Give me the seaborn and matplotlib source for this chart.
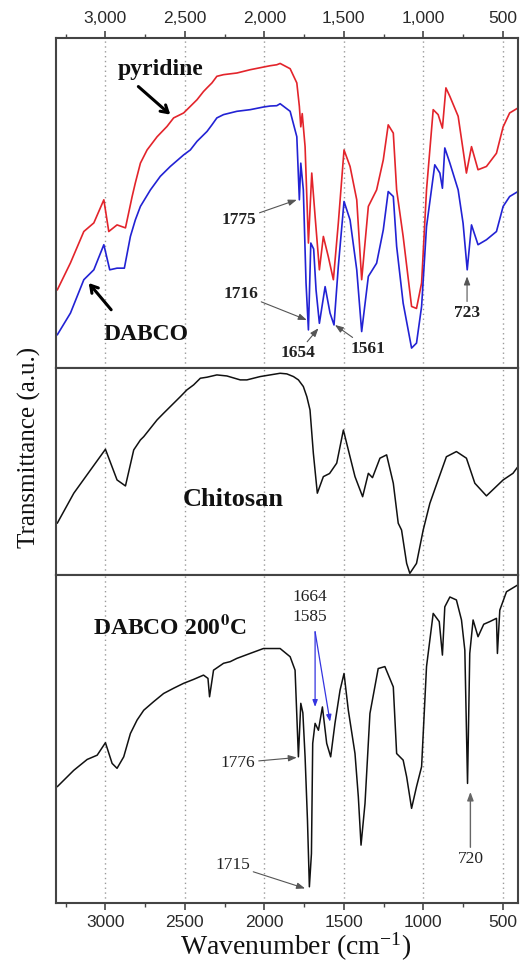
import numpy as np
import pandas as pd
import matplotlib
matplotlib.use("Agg")
import matplotlib.pyplot as plt
import seaborn as sns
from matplotlib.ticker import MultipleLocator, FuncFormatter

# --- data (wavenumber in cm-1, transmittance in % of panel height) ---
pyridineWn = [3303, 3220, 3136, 3073, 3010, 2979, 2927, 2874, 2832, 2812, 2780, 2738, 2675,
              2613, 2571, 2508, 2466, 2424, 2383, 2361, 2330, 2299, 2257, 2173, 2089, 2006,
              1964, 1922, 1901, 1838, 1796, 1780, 1771, 1762, 1744, 1723, 1702, 1681, 1654,
              1629, 1598, 1566, 1535, 1499, 1461, 1419, 1388, 1346, 1294, 1252, 1221, 1189,
              1168, 1127, 1074, 1043, 1011, 980, 938, 907, 880, 858, 833, 781, 750, 729,
              697, 656, 603, 540, 498, 457, 405]
pyridineT = [23.6, 31.8, 41.3, 43.9, 50.9, 41.3, 43.3, 42.4, 51.9, 56, 62, 66, 70,
             73.1, 75.7, 77.2, 79.2, 81.2, 83.7, 84.8, 86.3, 88.3, 88.8, 89.3, 90.3, 91.1,
             91.5, 91.8, 92.2, 90.6, 86.3, 79.2, 73, 77, 67, 37.8, 59, 45.9, 29.7,
             39.8, 33.7, 26.7, 43.8, 66, 61, 50.9, 26.7, 48.9, 53.9, 63, 73.6, 71.1,
             53.9, 39.8, 18.6, 18, 25.7, 53.9, 78.2, 76.7, 72.6, 84.8, 82.2, 76.2, 66, 59,
             67, 60, 61, 65, 73, 77.2, 78.7]

dabcoWn = [3303, 3220, 3136, 3073, 3010, 2973, 2927, 2881, 2843, 2812, 2780, 2717, 2655,
           2592, 2508, 2466, 2424, 2361, 2330, 2299, 2257, 2173, 2089, 2006, 1964, 1922,
           1901, 1838, 1796, 1780, 1771, 1755, 1738, 1723, 1708, 1690, 1675, 1654, 1618,
           1587, 1562, 1535, 1499, 1461, 1419, 1388, 1346, 1294, 1252, 1221, 1189, 1168,
           1127, 1074, 1043, 1011, 980, 928, 896, 880, 865, 833, 781, 750, 724, 697,
           656, 603, 540, 498, 457, 405]
dabcoT = [10, 16.6, 26.7, 29.7, 37.3, 29.7, 30.2, 30.2, 39.8, 44.8, 48.9, 53.9, 58,
          61, 64.5, 66, 68.6, 71.6, 73.6, 75.7, 76.7, 77.7, 78.2, 79, 79.3, 79.4,
          80, 77.7, 70, 50.9, 62, 53.9, 25.7, 11.5, 37.8, 36, 23.6, 13.5, 24.6,
          16.6, 13, 30.7, 50.4, 44.8, 29.7, 11, 27.7, 31.7, 41.8, 53.4, 51.9, 36.8,
          19.6, 6, 7.5, 18.6, 42.8, 61.5, 59, 54.4, 66.6, 62, 53.9, 43.8, 29.7, 43.3,
          37.3, 38.8, 41.3, 48.9, 51.9, 53.4]

chitosanWn = [3303, 3199, 3094, 3000, 2927, 2874, 2822, 2780, 2759, 2675, 2634, 2571, 2529,
              2487, 2445, 2403, 2361, 2299, 2236, 2152, 2110, 2027, 1964, 1901, 1859, 1817,
              1786, 1755, 1733, 1713, 1692, 1667, 1629, 1590, 1545, 1503, 1472, 1430, 1382,
              1346, 1320, 1273, 1231, 1189, 1158, 1137, 1105, 1085, 1043, 1001, 959, 907,
              855, 792, 729, 676, 603, 498, 436, 405]
chitosanT = [25, 39.5, 50.7, 60.7, 45.9, 43, 60.4, 65.2, 66.8, 74.9, 78.1, 82.9, 86.1,
             89.4, 91.8, 95, 95.5, 96.6, 96.1, 94.2, 94.2, 95.8, 96.6, 97.4, 97.1, 95.8,
             94.2, 91, 86.1, 79.7, 58.8, 39.5, 47.5, 49, 54, 70, 60.4, 47.5, 37.8,
             49.1, 47, 56.4, 58, 44.3, 25, 21.7, 5.6, 0.8, 5.6, 21.7, 34.6, 45.9,
             57.1, 59.6, 56.4, 44.3, 38.2, 45.9, 49.1, 52.3]

heatedWn = [3303, 3199, 3115, 3052, 3000, 2958, 2927, 2885, 2843, 2801, 2759, 2697, 2634,
            2571, 2508, 2445, 2383, 2355, 2345, 2320, 2257, 2215, 2173, 2090, 2006, 1901,
            1838, 1807, 1786, 1771, 1758, 1744, 1729, 1717, 1704, 1696, 1681, 1660, 1635,
            1608, 1583, 1556, 1524, 1499, 1472, 1430, 1409, 1392, 1367, 1336, 1284, 1242,
            1189, 1168, 1127, 1105, 1074, 1043, 1011, 980, 938, 900, 880, 865, 833, 792,
            760, 739, 722, 708, 687, 656, 620, 582, 540, 534, 519, 477, 405]
heatedT = [35.5, 40.5, 43.8, 45.1, 48.9, 42.6, 41.1, 44.6, 51.7, 55.8, 58.8, 61.4, 63.9,
           65.5, 67, 68.2, 69.5, 68.5, 62.9, 71, 73.1, 73.6, 74.6, 76.1, 77.6, 77.6,
           75.1, 71, 44.6, 60.9, 58, 44.6, 25.3, 5, 15.1, 48.7, 54.8, 52.7, 59.8,
           48.7, 44.6, 54.8, 64.9, 70, 58.8, 45.6, 32.4, 17.7, 30.4, 57.8, 71.5, 72.1,
           65.9, 45.6, 43.6, 38.5, 28.9, 35.5, 41.6, 72.1, 88.3, 85.8, 75.6, 90.3, 93.3, 92.4,
           86.3, 77.1, 36.5, 76.1, 86.3, 81.2, 85, 85.8, 86.8, 76.1, 89.3, 94.9, 97]


def styleAxis(ax):
    ax.set_xlim(3310, 405)
    ax.set_ylim(0, 100)
    ax.set_yticks([])
    ax.set_xlabel("")
    ax.set_ylabel("")
    ax.xaxis.set_major_locator(MultipleLocator(500))
    ax.xaxis.set_minor_locator(MultipleLocator(250))
    ax.grid(axis="x", which="major", color="#9a9a9a", lw=1.0, ls=(0, (1, 2.5)))
    ax.grid(axis="y", visible=False)
    for s in ax.spines.values():
        s.set_color("#444444")
        s.set_linewidth(1.5)
    ax.tick_params(axis="x", which="both", top=False, bottom=False,
                   labeltop=False, labelbottom=False, direction="out",
                   colors="#444444", labelcolor="#2a2a2a", labelsize=12.5)
    ax.tick_params(axis="x", which="major", length=5, width=1.2)
    ax.tick_params(axis="x", which="minor", length=3, width=1.0)


def arrow(ax, text, xy, xytext, color="#555555", lw=0.8, **kw):
    ax.annotate(text, xy=xy, xytext=xytext, ha="center", va="center",
                fontfamily="Liberation Serif", fontsize=12.5, color="#222222",
                arrowprops=dict(arrowstyle="-|>,head_length=0.4,head_width=0.15",
                                color=color, lw=lw, shrinkA=0, shrinkB=0), **kw)


def main():
    sns.set_style("white")
    plt.rcParams["font.family"] = ["Liberation Sans", "DejaVu Sans"]
    plt.rcParams["mathtext.fontset"] = "stix"

    fig = plt.figure(figsize=(5.2, 9.66), dpi=100)
    gs = fig.add_gridspec(3, 1, height_ratios=[330, 207, 328], hspace=0,
                          left=0.108, right=0.996, bottom=0.065, top=0.961)
    axTop = fig.add_subplot(gs[0])
    axMid = fig.add_subplot(gs[1])
    axBot = fig.add_subplot(gs[2])

    top = pd.DataFrame({"wn": pyridineWn, "t": pyridineT})
    dab = pd.DataFrame({"wn": dabcoWn, "t": dabcoT})
    chi = pd.DataFrame({"wn": chitosanWn, "t": chitosanT})
    hot = pd.DataFrame({"wn": heatedWn, "t": heatedT})

    sns.lineplot(data=top, x="wn", y="t", ax=axTop, color="#e3242b", lw=1.2,
                 estimator=None, sort=False)
    sns.lineplot(data=dab, x="wn", y="t", ax=axTop, color="#2222d4", lw=1.2,
                 estimator=None, sort=False)
    sns.lineplot(data=chi, x="wn", y="t", ax=axMid, color="#111111", lw=1.1,
                 estimator=None, sort=False)
    sns.lineplot(data=hot, x="wn", y="t", ax=axBot, color="#111111", lw=1.1,
                 estimator=None, sort=False)

    for ax in (axTop, axMid, axBot):
        styleAxis(ax)

    axTop.tick_params(axis="x", which="both", top=True, labeltop=True)
    axTop.xaxis.set_major_formatter(FuncFormatter(lambda v, p: f"{int(v):,}"))
    axBot.tick_params(axis="x", which="both", bottom=True, labelbottom=True)
    axBot.xaxis.set_major_formatter(FuncFormatter(lambda v, p: f"{int(v)}"))

    serifBold = dict(fontfamily="Liberation Serif", fontweight="bold", color="#111111")

    # top panel
    axTop.text(2655, 90.5, "pyridine", ha="center", va="center", fontsize=17, **serifBold)
    axTop.annotate("", xy=(2592, 76.7), xytext=(2793, 85.2),
                   arrowprops=dict(arrowstyle="->,head_length=0.5,head_width=0.3",
                                   color="black", lw=2.2, shrinkA=0, shrinkB=0))
    axTop.text(2742, 10, "DABCO", ha="center", va="center", fontsize=17, **serifBold)
    axTop.annotate("", xy=(3105, 25.7), xytext=(2964, 17.6),
                   arrowprops=dict(arrowstyle="->,head_length=0.5,head_width=0.3",
                                   color="black", lw=2.2, shrinkA=0, shrinkB=0))
    arrow(axTop, "1775", (1796, 50.9), (2160, 44.8), fontweight="bold")
    arrow(axTop, "1716", (1733, 14.5), (2150, 22.5), fontweight="bold")
    arrow(axTop, "1654", (1660, 12), (1790, 4.5), fontweight="bold")
    arrow(axTop, "1561", (1556, 13), (1345, 5.8), fontweight="bold")
    arrow(axTop, "723", (725, 27.7), (725, 16.7), fontweight="bold")

    # middle panel
    axMid.text(2195, 36.6, "Chitosan", ha="center", va="center", fontsize=19, **serifBold)

    # bottom panel
    axBot.text(2592, 84.2, r"DABCO 200$^{\mathbf{0}}$C", ha="center", va="center",
               fontsize=17, **serifBold)
    axBot.text(1713, 93.3, "1664", ha="center", va="center",
               fontfamily="Liberation Serif", fontsize=12.5, color="#222222")
    axBot.text(1713, 87.2, "1585", ha="center", va="center",
               fontfamily="Liberation Serif", fontsize=12.5, color="#222222")
    for tip in [(1681, 59.8), (1587, 55.3)]:
        axBot.annotate("", xy=tip, xytext=(1681, 82.7),
                       arrowprops=dict(arrowstyle="-|>,head_length=0.4,head_width=0.15",
                                       color="#3434e0", lw=0.9, shrinkA=0, shrinkB=0))
    arrow(axBot, "1776", (1796, 44.4), (2165, 42.8))
    arrow(axBot, "1715", (1744, 4.5), (2200, 11.6))
    arrow(axBot, "720", (704, 33.9), (704, 13.6), color="#666666", lw=1.0)

    fig.text(29 / 520, 1 - 447 / 966, "Transmittance (a.u.)", rotation=90,
             ha="center", va="center", fontfamily="Liberation Serif", fontsize=18,
             color="#111111")
    fig.text(296 / 520, 1 - 947 / 966, r"Wavenumber (cm$^{\mathregular{-1}}$)",
             ha="center", va="center", fontfamily="Liberation Serif", fontsize=20,
             color="#111111")

    fig.savefig("out.png", dpi=100)
    plt.close(fig)


if __name__ == "__main__":
    main()
